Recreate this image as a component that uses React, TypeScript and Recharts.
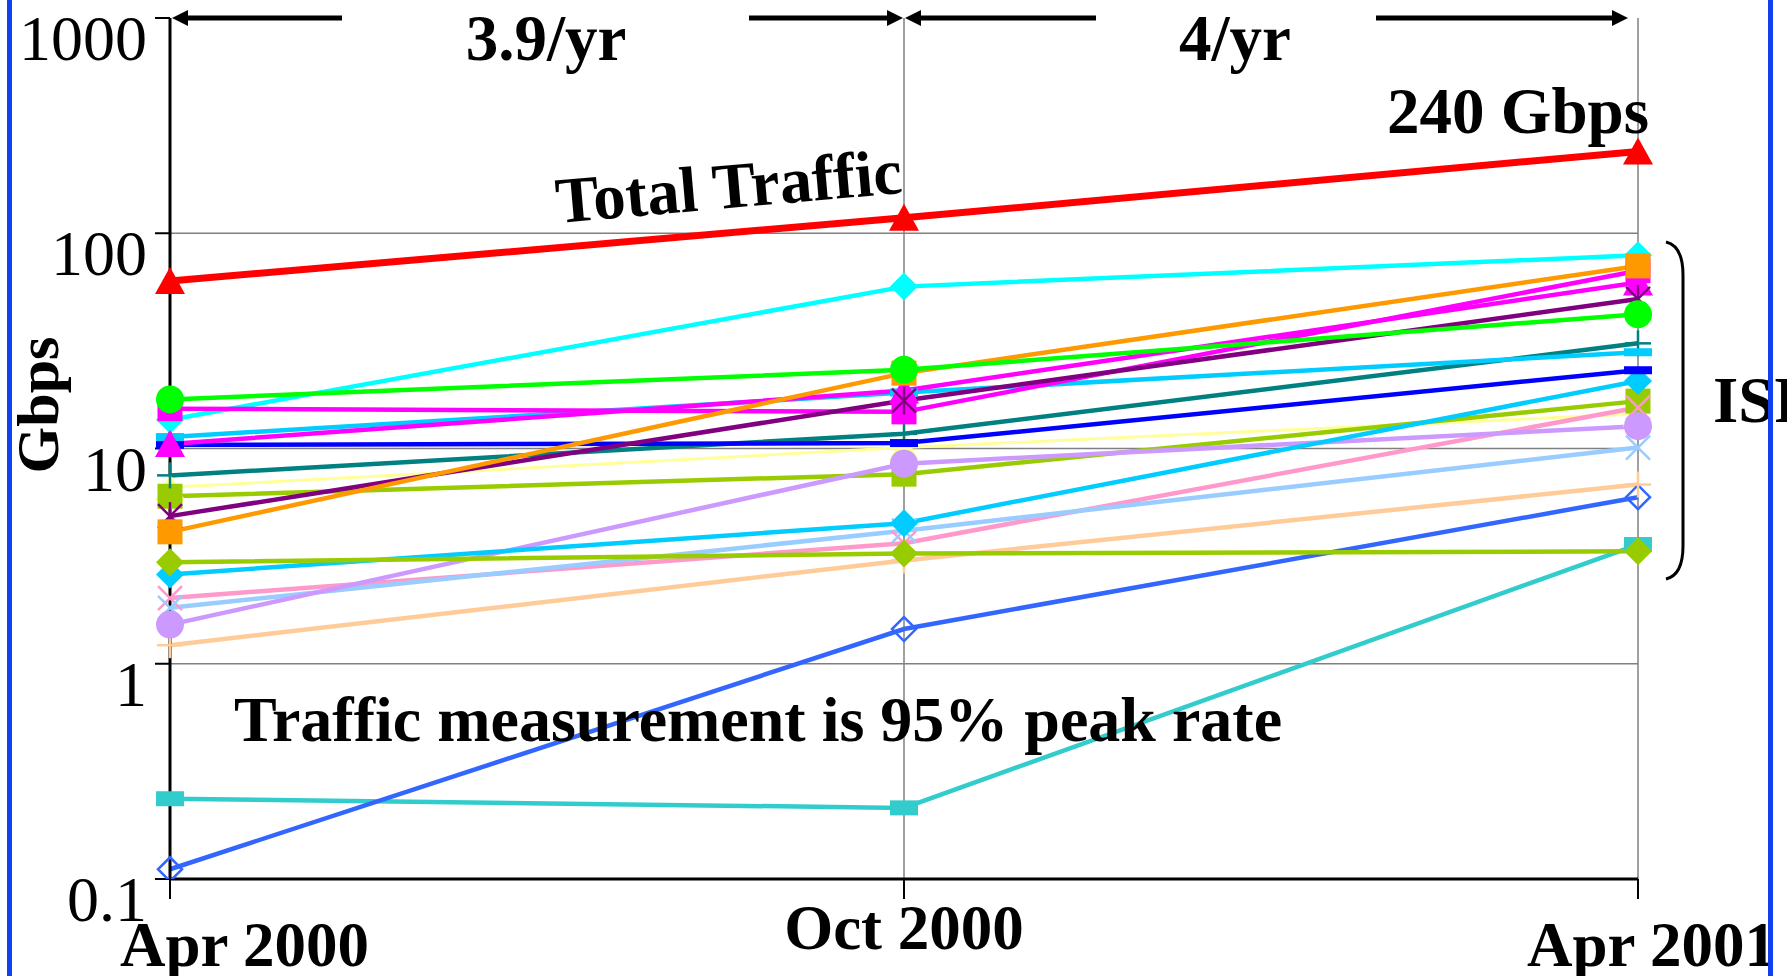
import { LineChart, Line, XAxis, YAxis, ReferenceLine } from 'recharts';

// Categories
const months = ['Apr 2000', 'Oct 2000', 'Apr 2001'];
const yTicks = [0.1, 1, 10, 100, 1000];
const gridValues = [1, 10, 100];
const gridMonths = ['Oct 2000', 'Apr 2001'];

// Series values (Gbps)
const totalTraffic = [60, 118, 240];
const cyanDiamond = [13.6, 56.5, 79];
const greenCircle = [16.9, 23.2, 42];
const magentaSquare = [15.3, 14.8, 67];
const magentaTriangle = [10.5, 18.6, 59];
const orangeSquare = [4.1, 22.4, 70.5];
const skyBar = [11.3, 18.2, 28];
const blueBar = [10.4, 10.6, 23.1];
const tealPlus = [7.5, 11.7, 30.8];
const yellowTriangle = [6.6, 10.1, 14.5];
const limeSquare = [6.0, 7.6, 16.6];
const purpleStar = [4.85, 16.7, 49.5];
const limeDiamond = [2.96, 3.25, 3.33];
const skyDiamond = [2.6, 4.5, 20.6];
const pinkCross = [2.02, 3.63, 15.5];
const paleBlueCross = [1.82, 4.15, 10.1];
const lavenderCircle = [1.52, 8.5, 12.7];
const peachPlus = [1.22, 3.02, 6.8];
const turquoiseBar = [0.236, 0.214, 3.58];
const royalOpenDiamond = [0.111, 1.45, 5.94];

type Shape = 'triangle' | 'square' | 'circle' | 'diamond' | 'openDiamond' | 'x' | 'star' | 'plus' | 'bar' | 'wideBar';

// drawing order: first is at the bottom
const series: { key: string; values: number[]; color: string; width: number; shape: Shape }[] = [
    { key: 'turquoiseBar', values: turquoiseBar, color: '#33CCCC', width: 4.5, shape: 'wideBar' },
    { key: 'royalOpenDiamond', values: royalOpenDiamond, color: '#3366FF', width: 4.5, shape: 'openDiamond' },
    { key: 'peachPlus', values: peachPlus, color: '#FFCC99', width: 4.5, shape: 'plus' },
    { key: 'yellowTriangle', values: yellowTriangle, color: '#FFFF99', width: 3, shape: 'triangle' },
    { key: 'limeSquare', values: limeSquare, color: '#99CC00', width: 4.5, shape: 'square' },
    { key: 'pinkCross', values: pinkCross, color: '#FF99CC', width: 4.5, shape: 'x' },
    { key: 'paleBlueCross', values: paleBlueCross, color: '#99CCFF', width: 4.5, shape: 'x' },
    { key: 'lavenderCircle', values: lavenderCircle, color: '#CC99FF', width: 4.5, shape: 'circle' },
    { key: 'skyDiamond', values: skyDiamond, color: '#00CCFF', width: 4.5, shape: 'diamond' },
    { key: 'limeDiamond', values: limeDiamond, color: '#99CC00', width: 4.5, shape: 'diamond' },
    { key: 'tealPlus', values: tealPlus, color: '#008080', width: 4.5, shape: 'plus' },
    { key: 'blueBar', values: blueBar, color: '#0000FF', width: 4.5, shape: 'bar' },
    { key: 'skyBar', values: skyBar, color: '#00CCFF', width: 4.5, shape: 'bar' },
    { key: 'cyanDiamond', values: cyanDiamond, color: '#00FFFF', width: 4.5, shape: 'diamond' },
    { key: 'magentaTriangle', values: magentaTriangle, color: '#FF00FF', width: 4.5, shape: 'triangle' },
    { key: 'magentaSquare', values: magentaSquare, color: '#FF00FF', width: 4.5, shape: 'square' },
    { key: 'purpleStar', values: purpleStar, color: '#800080', width: 4.5, shape: 'star' },
    { key: 'orangeSquare', values: orangeSquare, color: '#FF9900', width: 4.5, shape: 'square' },
    { key: 'greenCircle', values: greenCircle, color: '#00FF00', width: 4.5, shape: 'circle' },
    { key: 'totalTraffic', values: totalTraffic, color: '#FF0000', width: 7, shape: 'triangle' },
];

const data = months.map((month, i) => {
    const row: Record<string, string | number> = { month };
    series.forEach((s) => {
        row[s.key] = s.values[i];
    });
    return row;
});

const W = 1787;
const H = 976;
const PLOT_LEFT = 170;
const PLOT_RIGHT = 1638;
const PLOT_TOP = 18;
const PLOT_BOTTOM = 879;
const FONT = '"Liberation Serif", "Times New Roman", serif';
const catX = (i: number) => PLOT_LEFT + (i * (PLOT_RIGHT - PLOT_LEFT)) / (months.length - 1);

function Marker({ cx, cy, shape, color }: { cx?: number; cy?: number; shape: Shape; color: string }) {
    if (cx == null || cy == null || isNaN(cx) || isNaN(cy)) return null;
    switch (shape) {
        case 'triangle':
            return <polygon points={`${cx},${cy - 14} ${cx - 15},${cy + 13} ${cx + 15},${cy + 13}`} fill={color} />;
        case 'square':
            return <rect x={cx - 12.5} y={cy - 12.5} width={25} height={25} fill={color} />;
        case 'circle':
            return <circle cx={cx} cy={cy} r={14} fill={color} />;
        case 'diamond':
            return <polygon points={`${cx},${cy - 14} ${cx + 14},${cy} ${cx},${cy + 14} ${cx - 14},${cy}`} fill={color} />;
        case 'openDiamond':
            return (
                <polygon
                    points={`${cx},${cy - 12} ${cx + 12},${cy} ${cx},${cy + 12} ${cx - 12},${cy}`}
                    fill="none"
                    stroke={color}
                    strokeWidth={2.5}
                />
            );
        case 'x':
            return (
                <g stroke={color} strokeWidth={2.5}>
                    <line x1={cx - 12} y1={cy - 12} x2={cx + 12} y2={cy + 12} />
                    <line x1={cx - 12} y1={cy + 12} x2={cx + 12} y2={cy - 12} />
                </g>
            );
        case 'star':
            return (
                <g stroke={color} strokeWidth={2.5}>
                    <line x1={cx - 12} y1={cy - 12} x2={cx + 12} y2={cy + 12} />
                    <line x1={cx - 12} y1={cy + 12} x2={cx + 12} y2={cy - 12} />
                    <line x1={cx} y1={cy - 14} x2={cx} y2={cy + 14} />
                </g>
            );
        case 'plus':
            return (
                <g stroke={color} strokeWidth={2.5}>
                    <line x1={cx - 13} y1={cy} x2={cx + 13} y2={cy} />
                    <line x1={cx} y1={cy - 13} x2={cx} y2={cy + 13} />
                </g>
            );
        case 'bar':
            return <rect x={cx - 14} y={cy - 4} width={28} height={8} fill={color} />;
        case 'wideBar':
            return <rect x={cx - 14} y={cy - 7.5} width={28} height={15} fill={color} />;
        default:
            return null;
    }
}

function YTick({ x, y, payload }: any) {
    return (
        <text x={x - 8} y={y + 42} textAnchor="end" fontFamily={FONT} fontSize={64} fill="#000">
            {payload.value}
        </text>
    );
}

function XTick({ x, y, payload, index }: any) {
    const last = index === months.length - 1;
    const anchor = index === 0 ? 'start' : last ? 'start' : 'middle';
    const tx = index === 0 ? x - 50 : last ? x - 111 : x;
    const ty = index === 1 ? y + 50 : y + 67;
    return (
        <text x={tx} y={ty} textAnchor={anchor} fontFamily={FONT} fontSize={63} fontWeight="bold" fill="#000">
            {payload.value}
        </text>
    );
}

function Arrow({ from, to, y }: { from: number; to: number; y: number }) {
    const dir = to > from ? 1 : -1;
    const headLen = 16;
    const base = to - dir * headLen;
    return (
        <g>
            <line x1={from} y1={y} x2={base} y2={y} stroke="#000" strokeWidth={5} />
            <polygon points={`${to},${y} ${base},${y - 8} ${base},${y + 8}`} fill="#000" />
        </g>
    );
}

export default function App() {
    const arrowY = PLOT_TOP;
    const midX = catX(1);
    return (
        <div style={{ position: 'relative', width: W, height: H, background: '#fff', overflow: 'hidden' }}>
            <style>{'body{margin:0}'}</style>
            <LineChart width={W} height={H} data={data} margin={{ top: PLOT_TOP, right: W - PLOT_RIGHT, bottom: 0, left: 0 }}>
                <XAxis
                    dataKey="month"
                    type="category"
                    height={H - PLOT_BOTTOM}
                    padding={{ left: 0, right: 0 }}
                    axisLine={{ stroke: '#000', strokeWidth: 3 }}
                    tickLine={{ stroke: '#000', strokeWidth: 2 }}
                    tickSize={20}
                    tickMargin={0}
                    interval={0}
                    tick={<XTick />}
                />
                <YAxis
                    type="number"
                    scale="log"
                    domain={[0.1, 1000]}
                    ticks={yTicks}
                    allowDataOverflow
                    width={PLOT_LEFT}
                    axisLine={{ stroke: '#000', strokeWidth: 3 }}
                    tickLine={{ stroke: '#000', strokeWidth: 2 }}
                    tickSize={15}
                    tickMargin={0}
                    interval={0}
                    tick={<YTick />}
                />
                {gridValues.map((v) => (
                    <ReferenceLine key={`gy-${v}`} y={v} stroke="#808080" strokeWidth={1.5} />
                ))}
                {gridMonths.map((m) => (
                    <ReferenceLine key={`gx-${m}`} x={m} stroke="#808080" strokeWidth={1.5} />
                ))}
                {series.map((s) => (
                    <Line
                        key={s.key}
                        dataKey={s.key}
                        type="linear"
                        stroke={s.color}
                        strokeWidth={s.width}
                        isAnimationActive={false}
                        activeDot={false}
                        dot={(p: any) => (
                            <Marker key={`${s.key}-${p.index}`} cx={p.cx} cy={p.cy} shape={s.shape} color={s.color} />
                        )}
                    />
                ))}
            </LineChart>
            <svg
                width={W}
                height={H}
                style={{ position: 'absolute', left: 0, top: 0, pointerEvents: 'none' }}
                fontFamily={FONT}
            >
                <Arrow from={342} to={catX(0) + 2} y={arrowY} />
                <Arrow from={749} to={midX - 1} y={arrowY} />
                <Arrow from={1096} to={midX + 1} y={arrowY} />
                <Arrow from={1376} to={1628} y={arrowY} />
                <text x={546} y={60} textAnchor="middle" fontSize={65} fontWeight="bold">3.9/yr</text>
                <text x={1235} y={60} textAnchor="middle" fontSize={65} fontWeight="bold">4/yr</text>
                <text x={1649} y={133} textAnchor="end" fontSize={65} fontWeight="bold">240 Gbps</text>
                <text
                    x={729}
                    y={208}
                    textAnchor="middle"
                    fontSize={65}
                    fontWeight="bold"
                    transform="rotate(-5 729 190)"
                >
                    Total Traffic
                </text>
                <text x={234} y={741} fontSize={64} fontWeight="bold">Traffic measurement is 95% peak rate</text>
                <text x={1713} y={422} fontSize={65} fontWeight="bold">ISPs</text>
                <text
                    x={38}
                    y={405}
                    textAnchor="middle"
                    dominantBaseline="central"
                    fontSize={60}
                    fontWeight="bold"
                    transform="rotate(-90 38 405)"
                >
                    Gbps
                </text>
                <path d="M 1666 242 Q 1683 246 1683 275 L 1683 546 Q 1683 575 1666 579" fill="none" stroke="#000" strokeWidth={3} />
                <rect x={7} y={0} width={5} height={H} fill="#1040F0" />
                <rect x={1768} y={0} width={5} height={H} fill="#1040F0" />
            </svg>
        </div>
    );
}
